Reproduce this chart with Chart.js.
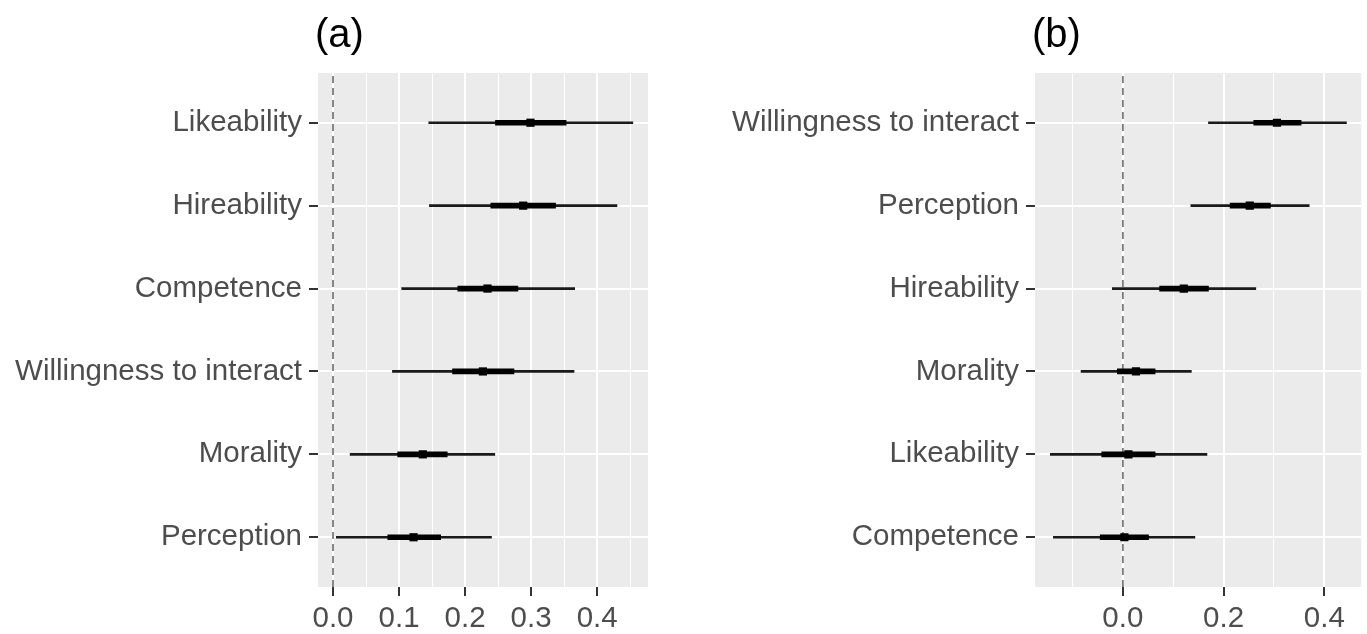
<!DOCTYPE html>
<html>
<head>
<meta charset="utf-8">
<script src="https://cdn.jsdelivr.net/npm/chart.js@4/dist/chart.umd.min.js"></script>
<style>
  html, body { margin: 0; padding: 0; background: #fff; }
  #wrap { position: relative; width: 1367px; height: 634px; }
  canvas { position: absolute; top: 0; }
</style>
</head>
<body>
<div id="wrap">
  <canvas id="panel-a" width="660" height="634" style="left:0px"></canvas>
  <canvas id="panel-b" width="707" height="634" style="left:660px"></canvas>
</div>
<script>
(function () {
    // panel (a): rows listed top to bottom
    const labelsA = ['Likeability', 'Hireability', 'Competence', 'Willingness to interact', 'Morality', 'Perception'];
    const estA     = [0.299, 0.288, 0.234, 0.227, 0.136, 0.122];
    const outerLoA = [0.145, 0.146, 0.104, 0.090, 0.026, 0.005];
    const outerHiA = [0.454, 0.430, 0.366, 0.365, 0.245, 0.240];
    const innerLoA = [0.246, 0.239, 0.189, 0.181, 0.098, 0.083];
    const innerHiA = [0.353, 0.337, 0.280, 0.274, 0.173, 0.163];
    const majorTicksA = [0, 0.1, 0.2, 0.3, 0.4];
    const minorTicksA = [0.05, 0.15, 0.25, 0.35, 0.45];

    // panel (b)
    const labelsB = ['Willingness to interact', 'Perception', 'Hireability', 'Morality', 'Likeability', 'Competence'];
    const estB     = [0.306, 0.252, 0.121, 0.026, 0.011, 0.003];
    const outerLoB = [0.170, 0.135, -0.021, -0.083, -0.144, -0.138];
    const outerHiB = [0.444, 0.370, 0.264, 0.136, 0.167, 0.143];
    const innerLoB = [0.260, 0.213, 0.073, -0.011, -0.042, -0.045];
    const innerHiB = [0.354, 0.293, 0.170, 0.064, 0.064, 0.051];
    const majorTicksB = [0, 0.2, 0.4];
    const minorTicksB = [-0.1, 0.1, 0.3];

    const refLine = 0; // dashed reference at zero

    const FONT = '"Liberation Sans", Arial, Helvetica, sans-serif';
    const TEXT = '#4D4D4D';

    // grey ggplot-like panel background
    const panelBg = {
        id: 'panelBg',
        beforeDraw(chart) {
            const a = chart.chartArea;
            const c = chart.ctx;
            c.save();
            c.fillStyle = '#EBEBEB';
            c.fillRect(a.left, a.top, a.right - a.left, a.bottom - a.top);
            c.restore();
        },
    };

    // "(a)" / "(b)" left-aligned with the panel
    const panelTitle = {
        id: 'panelTitle',
        afterDraw(chart, args, opts) {
            const c = chart.ctx;
            c.save();
            c.fillStyle = '#000';
            c.font = '40px ' + FONT;
            c.textBaseline = 'alphabetic';
            c.textAlign = 'left';
            c.fillText(opts.text, chart.chartArea.left - 3, 47);
            c.restore();
        },
    };

    function makePanel(id, title, labels, est, outerLo, outerHi, innerLo, innerHi,
                       majors, minors, xMin, xMax, axisWidth, padRight) {
        const n = labels.length;
        const rowY = i => n - i; // first label sits at the top
        const xTicks = majors.concat(minors).sort((a, b) => a - b);
        const isMajor = v => majors.some(m => Math.abs(m - v) < 1e-9);

        return new Chart(document.getElementById(id), {
            type: 'bar',
            data: {
                datasets: [
                    {
                        type: 'line',
                        label: 'estimate',
                        data: est.map((v, i) => ({x: v, y: rowY(i)})),
                        showLine: false,
                        pointStyle: 'rect',
                        pointRadius: 5.8,
                        pointBackgroundColor: '#000',
                        pointBorderWidth: 0,
                        order: 0,
                    },
                    {
                        label: 'inner',
                        data: innerLo.map((v, i) => ({x: [v, innerHi[i]], y: rowY(i)})),
                        backgroundColor: '#000',
                        barThickness: 5,
                        grouped: false,
                        borderWidth: 0,
                        order: 1,
                    },
                    {
                        label: 'outer',
                        data: outerLo.map((v, i) => ({x: [v, outerHi[i]], y: rowY(i)})),
                        backgroundColor: '#1a1a1a',
                        barThickness: 2,
                        grouped: false,
                        borderWidth: 0,
                        order: 2,
                    },
                    {
                        type: 'line',
                        label: 'zero',
                        data: [{x: refLine, y: 0.4}, {x: refLine, y: n + 0.6}],
                        borderColor: '#7a7a7a',
                        borderWidth: 1.8,
                        borderDash: [7, 5],
                        pointRadius: 0,
                        order: 3,
                    },
                ],
            },
            options: {
                responsive: false,
                animation: false,
                events: [],
                indexAxis: 'y',
                layout: {padding: {top: 73, right: padRight, bottom: 0, left: 0}},
                plugins: {
                    legend: {display: false},
                    tooltip: {enabled: false},
                    panelTitle: {text: title},
                },
                scales: {
                    x: {
                        type: 'linear',
                        position: 'bottom',
                        min: xMin,
                        max: xMax,
                        offset: false,
                        afterBuildTicks: s => { s.ticks = xTicks.map(v => ({value: v})); },
                        afterFit: s => { s.height = 47; },
                        border: {display: false},
                        grid: {
                            offset: false,
                            color: '#fff',
                            lineWidth: c => isMajor(c.tick.value) ? 2 : 1,
                            tickColor: c => isMajor(c.tick.value) ? '#333' : 'rgba(0,0,0,0)',
                            tickLength: 9,
                            tickWidth: 2,
                        },
                        ticks: {
                            autoSkip: false,
                            maxRotation: 0,
                            padding: 5,
                            color: TEXT,
                            font: {family: FONT, size: 29.5},
                            callback: v => isMajor(v) ? v.toFixed(1) : '',
                        },
                    },
                    y: {
                        type: 'linear',
                        position: 'left',
                        min: 0.4,
                        max: n + 0.6,
                        offset: false,
                        afterBuildTicks: s => { s.ticks = labels.map((l, i) => ({value: rowY(i)})); },
                        afterFit: s => { s.width = axisWidth; },
                        border: {display: false},
                        grid: {
                            offset: false,
                            color: '#fff',
                            lineWidth: 2,
                            tickColor: '#333',
                            tickLength: 9,
                            tickWidth: 2,
                        },
                        ticks: {
                            autoSkip: false,
                            padding: 7,
                            color: TEXT,
                            font: {family: FONT, size: 29.5},
                            callback: v => labels[n - v],
                        },
                    },
                },
            },
            plugins: [panelBg, panelTitle],
        });
    }

    makePanel('panel-a', '(a)', labelsA, estA, outerLoA, outerHiA, innerLoA, innerHiA,
              majorTicksA, minorTicksA, -0.0227, 0.477, 318, 12);
    makePanel('panel-b', '(b)', labelsB, estB, outerLoB, outerHiB, innerLoB, innerHiB,
              majorTicksB, minorTicksB, -0.1745, 0.4733, 375, 3);
})();
</script>
</body>
</html>
